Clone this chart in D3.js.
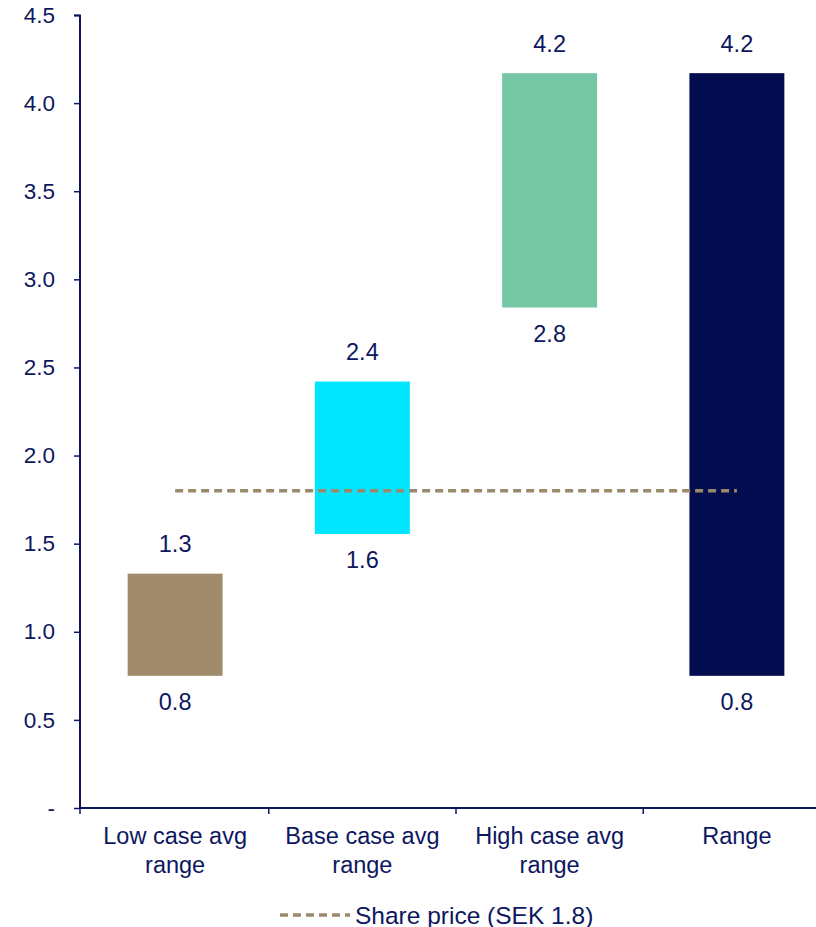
<!DOCTYPE html>
<html><head><meta charset="utf-8">
<script src="https://cdn.jsdelivr.net/npm/d3@7"></script>
<style>body{margin:0;background:#fff;}svg{display:block;font-family:"Liberation Sans",Arial,sans-serif;}</style>
</head><body>
<script>
const categories = [["Low case avg","range"],["Base case avg","range"],["High case avg","range"],["Range"]];
const lowValues = [0.75, 1.555, 2.84, 0.75];
const highValues = [1.33, 2.42, 4.17, 4.17];
const lowLabels = ["0.8","1.6","2.8","0.8"];
const highLabels = ["1.3","2.4","4.2","4.2"];
const barColors = ["#a08c6c","#00e6ff","#76c7a6","#020c4f"];
const sharePrice = 1.8;
const yTicks = [0,0.5,1,1.5,2,2.5,3,3.5,4,4.5];
const legendLabel = "Share price (SEK 1.8)";

const W=816,H=927, textColor="#0d1760", axisColor="#0d1760", FS=23.5;
const svg=d3.select("body").append("svg").attr("width",W).attr("height",H);
const x=d3.scaleBand().domain(d3.range(categories.length)).range([81.5,830.5]).paddingInner(0).paddingOuter(0);
const y=d3.scaleLinear().domain([0,4.5]).range([808,15]);
const bw=x.bandwidth()*0.507;

// y axis
const ya=svg.append("g").attr("transform","translate(80,0)")
  .call(d3.axisLeft(y).tickValues(yTicks).tickSize(6).tickPadding(19).tickFormat(d=>d===0?"-":d3.format(".1f")(d)));
ya.select(".domain").attr("stroke",axisColor).attr("stroke-width",2).attr("d","M-6,15.5H0V808");
ya.selectAll(".tick line").attr("stroke",axisColor).attr("stroke-width",1.5);
ya.selectAll(".tick text").attr("fill",textColor).attr("font-size",22.5).attr("font-family","Liberation Sans, Arial, sans-serif");

// x axis
const xa=svg.append("g").attr("transform","translate(0,808)");
xa.append("line").attr("x1",80).attr("x2",831).attr("y1",0).attr("y2",0).attr("stroke",axisColor).attr("stroke-width",2);
d3.range(1,categories.length).forEach(i=>{
  const xx = x(i);
  xa.append("line").attr("x1",xx).attr("x2",xx).attr("y1",0).attr("y2",6).attr("stroke",axisColor).attr("stroke-width",1.5);
});
xa.append("line").attr("x1",80).attr("x2",80).attr("y1",0).attr("y2",6).attr("stroke",axisColor).attr("stroke-width",1.5);
categories.forEach((c,i)=>{
  const t=xa.append("text").attr("text-anchor","middle").attr("fill",textColor).attr("font-size",FS)
    .attr("x",x(i)+x.bandwidth()/2).attr("y",36);
  c.forEach((line,j)=>t.append("tspan").attr("x",x(i)+x.bandwidth()/2).attr("dy",j===0?0:29).text(line));
});

// bars
svg.append("g").selectAll("rect").data(categories).join("rect")
  .attr("x",(d,i)=>x(i)+(x.bandwidth()-bw)/2).attr("width",bw)
  .attr("y",(d,i)=>y(highValues[i])).attr("height",(d,i)=>y(lowValues[i])-y(highValues[i]))
  .attr("fill",(d,i)=>barColors[i]);

// labels
svg.append("g").selectAll("text").data(highLabels).join("text")
  .attr("x",(d,i)=>x(i)+x.bandwidth()/2).attr("y",(d,i)=>y(highValues[i])-21.5)
  .attr("text-anchor","middle").attr("fill",textColor).attr("font-size",FS).text(d=>d);
svg.append("g").selectAll("text").data(lowLabels).join("text")
  .attr("x",(d,i)=>x(i)+x.bandwidth()/2).attr("y",(d,i)=>y(lowValues[i])+34.5)
  .attr("text-anchor","middle").attr("fill",textColor).attr("font-size",FS).text(d=>d);

// share price line
svg.append("line").attr("x1",x(0)+x.bandwidth()/2).attr("x2",x(3)+x.bandwidth()/2)
  .attr("y1",y(sharePrice)).attr("y2",y(sharePrice))
  .attr("stroke","#9a8a6c").attr("stroke-width",3.5).attr("stroke-dasharray","8,5").attr("stroke-linecap","butt");

// legend
svg.append("line").attr("x1",280).attr("x2",350).attr("y1",915).attr("y2",915)
  .attr("stroke","#9a8a6c").attr("stroke-width",3.5).attr("stroke-dasharray","8,5");
svg.append("text").attr("x",355).attr("y",923.5).attr("fill",textColor).attr("font-size",24.5).text(legendLabel);
</script>
</body></html>
